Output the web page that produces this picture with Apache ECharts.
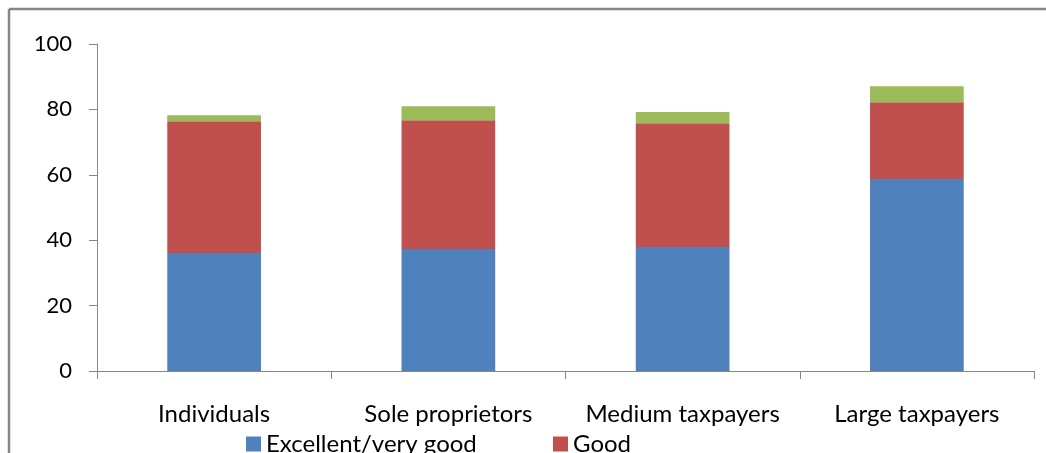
<!DOCTYPE html>
<html>
<head>
<meta charset="utf-8">
<script src="https://cdn.jsdelivr.net/npm/echarts@6/dist/echarts.min.js"></script>
<style>
  html, body { margin: 0; padding: 0; background: #fff; }
  #chart { width: 1046px; height: 453px; }
</style>
</head>
<body>
<div id="chart"></div>
<script>
// Survey ratings by taxpayer group (percent)
const categories = ['Individuals', 'Sole proprietors', 'Medium taxpayers', 'Large taxpayers'];
const excellentVeryGood = [36.1, 37.3, 37.9, 58.7];
const good = [40.3, 39.4, 37.9, 23.5];
const fair = [1.8, 4.3, 3.4, 4.9];
const yTicks = { min: 0, max: 100, interval: 20 };

const FONT = 'Lato';
const AXIS_GREY = '#868686';

const chart = echarts.init(document.getElementById('chart'), null, { renderer: 'canvas' });

const barCommon = { type: 'bar', stack: 'total', barWidth: '40%', barCategoryGap: '60%' };

const legendBase = {
  top: 427,
  itemWidth: 15, itemHeight: 15, itemGap: 6,
  icon: 'rect',
  textStyle: { fontFamily: FONT, fontSize: 24, color: '#000' }
};

chart.setOption({
  animation: false,
  grid: { left: 97, right: 12, top: 44, bottom: 82 },
  legend: [
    Object.assign({ data: ['Excellent/very good'], left: 241 }, legendBase),
    Object.assign({ data: ['Good'], left: 548 }, legendBase)
  ],
  xAxis: {
    type: 'category',
    data: categories,
    axisLine: { lineStyle: { color: AXIS_GREY, width: 1 } },
    axisTick: { show: true, interval: 0, length: 8, lineStyle: { color: AXIS_GREY } },
    axisLabel: { interval: 0, hideOverlap: false, margin: 31, fontFamily: FONT, fontSize: 24, color: '#000' }
  },
  yAxis: {
    type: 'value',
    min: yTicks.min, max: yTicks.max, interval: yTicks.interval,
    axisLine: { show: true, lineStyle: { color: AXIS_GREY, width: 1 } },
    axisTick: { show: true, length: 8, lineStyle: { color: AXIS_GREY } },
    splitLine: { show: false },
    axisLabel: { margin: 25, fontFamily: FONT, fontSize: 22, color: '#000' }
  },
  series: [
    Object.assign({ name: 'Excellent/very good', data: excellentVeryGood, itemStyle: { color: '#4F81BD' } }, barCommon),
    Object.assign({ name: 'Good', data: good, itemStyle: { color: '#C0504D' } }, barCommon),
    Object.assign({ name: 'Fair', data: fair, itemStyle: { color: '#9BBB59' } }, barCommon)
  ],
  graphic: [
    // chart frame (top and left edges)
    { type: 'line', shape: { x1: 9, y1: 9, x2: 1046, y2: 9 }, style: { stroke: '#878787', lineWidth: 2.5 } },
    { type: 'line', shape: { x1: 9, y1: 9, x2: 9, y2: 453 }, style: { stroke: '#878787', lineWidth: 2.5 } }
  ]
});
</script>
</body>
</html>
